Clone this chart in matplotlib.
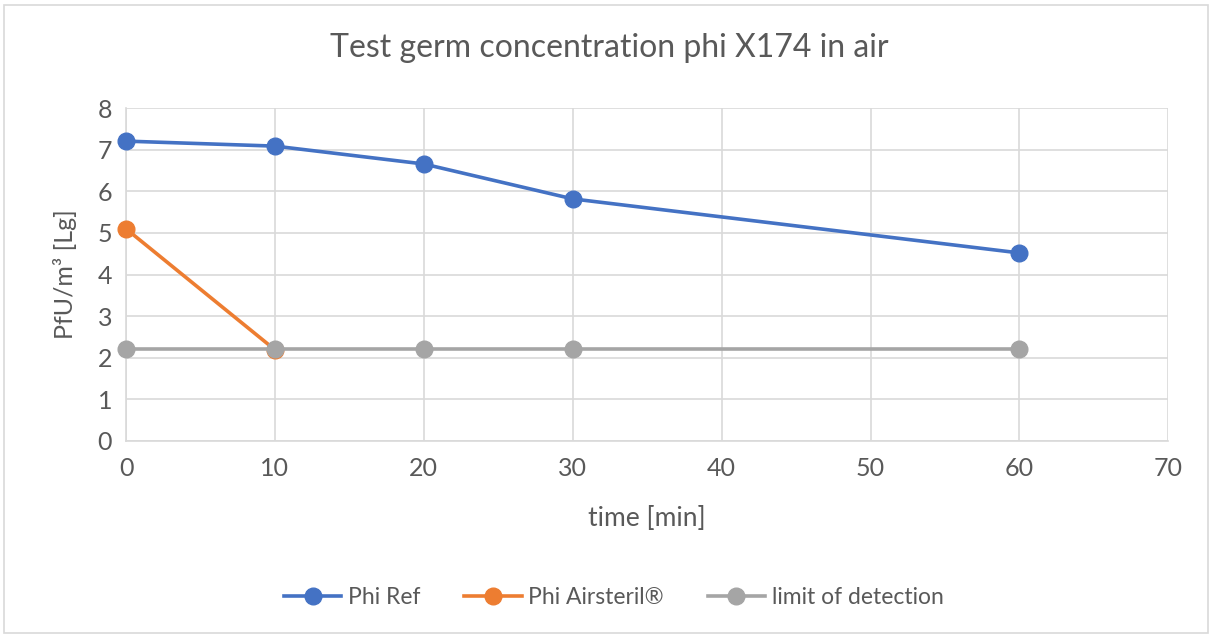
import matplotlib.pyplot as plt
from matplotlib.patches import Rectangle

plt.rcParams['font.family'] = ['Lato', 'DejaVu Sans']

time_ref = [0, 10, 20, 30, 60]
phi_ref = [7.21, 7.09, 6.66, 5.82, 4.52]
time_air = [0, 10]
phi_air = [5.10, 2.19]
time_lod = [0, 10, 20, 30, 60]
lod = [2.2, 2.2, 2.2, 2.2, 2.2]

text_col = '#595959'
grid_col = '#d9d9d9'

fig = plt.figure(figsize=(12.12, 6.37), dpi=100)
fig.patches.append(Rectangle((0.003, 0.006), 0.994, 0.986, transform=fig.transFigure,
                             fill=False, edgecolor='#d9d9d9', linewidth=1.2))
ax = fig.add_axes([0.104, 0.308, 0.86, 0.522])

ax.plot(time_ref, phi_ref, color='#4472c4', lw=2.6, marker='o', ms=12, label='Phi Ref', zorder=3)
ax.plot(time_air, phi_air, color='#ed7d31', lw=2.6, marker='o', ms=12, label='Phi Airsteril®', zorder=3)
ax.plot(time_lod, lod, color='#a5a5a5', lw=2.6, marker='o', ms=12, label='limit of detection', zorder=4)

ax.set_xlim(0, 70)
ax.set_ylim(0, 8)
ax.set_xticks(range(0, 71, 10))
ax.set_yticks(range(0, 9))
ax.grid(True, color=grid_col, lw=1.2)
ax.set_axisbelow(True)
for s in ['top', 'right']:
    ax.spines[s].set_visible(False)
for s in ['left', 'bottom']:
    ax.spines[s].set_color(grid_col)
    ax.spines[s].set_linewidth(1.2)
ax.tick_params(length=0, labelsize=18, labelcolor=text_col)
ax.tick_params(axis='x', pad=12)
ax.tick_params(axis='y', pad=10)
for ln in ax.lines:
    ln.set_clip_on(False)

fig.text(0.503, 0.925, 'Test germ concentration phi X174 in air', fontsize=23,
         color=text_col, ha='center', va='center')
ax.set_xlabel('time [min]', fontsize=19, color=text_col, va='center')
ax.xaxis.set_label_coords(0.5, -0.235)
ax.set_ylabel('PfU/m³ [Lg]', fontsize=18, color=text_col, va='center')
ax.yaxis.set_label_coords(-0.0585, 0.5)

ax.legend(loc='center', bbox_to_anchor=(0.468, -0.47), ncol=3, frameon=False,
          fontsize=16.5, labelcolor=text_col, handlelength=2.5, columnspacing=1.9,
          handletextpad=0.3)

fig.savefig('out.png', dpi=100)
